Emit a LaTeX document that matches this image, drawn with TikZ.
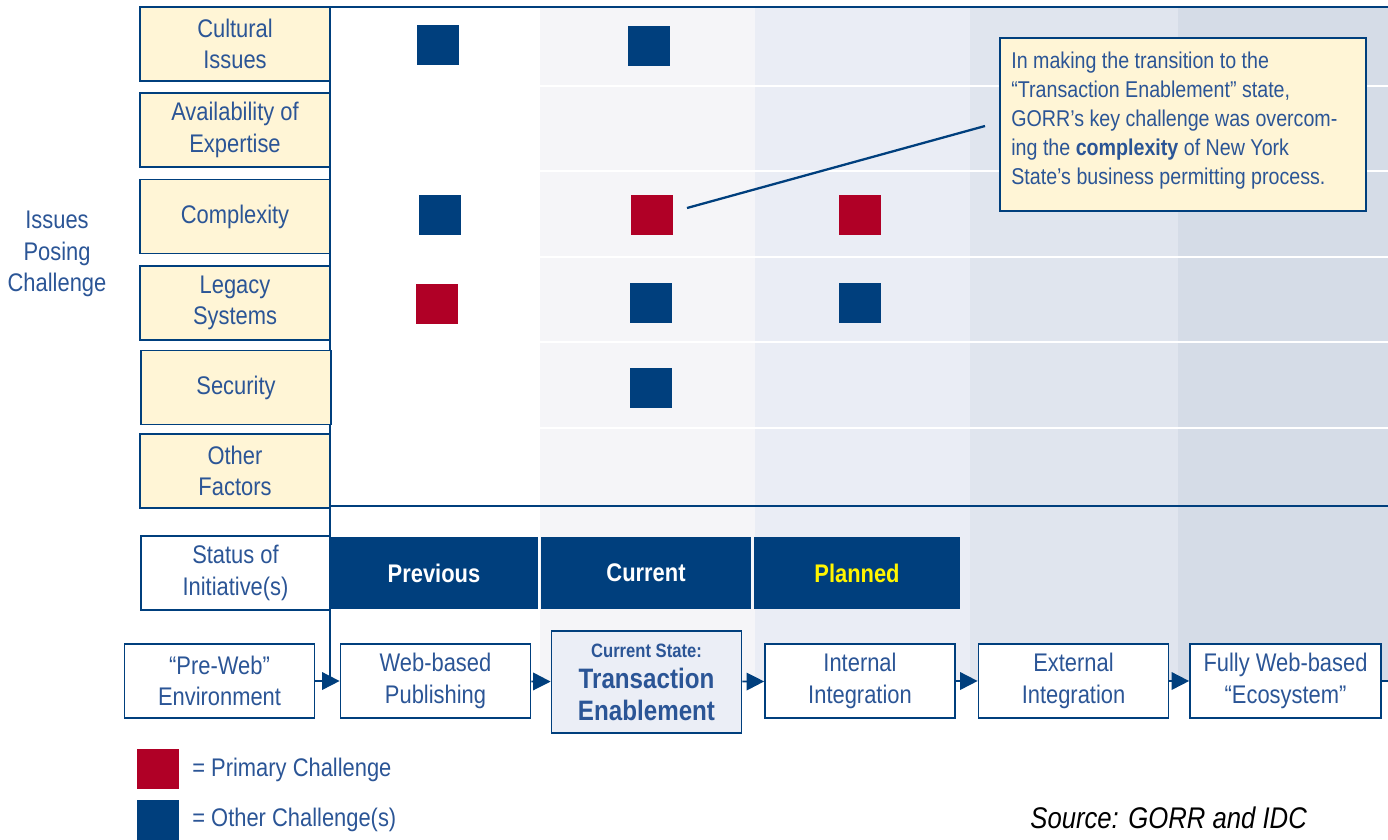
\documentclass[tikz,border=0pt]{standalone}
\usepackage{fontspec}
\setmainfont{Liberation Sans}[FakeStretch=0.86]
\usetikzlibrary{arrows.meta,calc}

\definecolor{navy}{RGB}{0,63,125}
\definecolor{crimson}{RGB}{176,0,38}
\definecolor{ink}{RGB}{43,85,150}
\definecolor{cream}{RGB}{255,245,214}
\definecolor{bandB}{RGB}{245,245,248}
\definecolor{bandC}{RGB}{234,237,245}
\definecolor{bandD}{RGB}{224,229,238}
\definecolor{bandE}{RGB}{213,220,231}
\definecolor{curfill}{RGB}{235,238,246}
\definecolor{planyellow}{RGB}{255,245,0}

\begin{document}
\begin{tikzpicture}[x=0.02cm, y=-0.02cm,
	every node/.style={font=\fontsize{14.5}{18}\selectfont, text=ink, align=center, inner sep=0pt},
	issue/.style={draw=navy, line width=1pt, fill=cream, minimum width=3.8cm, minimum height=1.48cm},
	chal/.style={fill=navy, minimum width=0.84cm, minimum height=0.8cm},
	primary/.style={chal, fill=crimson},
	status/.style={fill=navy, minimum height=1.44cm, text=white, font=\fontsize{14.5}{18}\selectfont\bfseries},
	stage/.style={draw=navy, line width=1pt, fill=white, minimum width=3.8cm, minimum height=1.48cm},
	flow/.style={draw=navy, line width=1pt, -{Triangle[length=10pt,width=10pt]}}
]

	% ---- frame

	\useasboundingbox (0,0) rectangle (1388,839);

	% ---- background bands

	\fill[bandB] (540,7) rectangle (755,681);
	\fill[bandC] (755,7) rectangle (970,681);
	\fill[bandD] (970,7) rectangle (1178,681);
	\fill[bandE] (1178,7) rectangle (1388,681);

	\foreach \y in {86,171,257,342,428} { \draw[white, line width=1.2pt] (540,\y) -- (1388,\y); }

	% ---- grid lines

	\coordinate (vtop) at (330,7);
	\coordinate (vbot) at (330,681);
	\coordinate (rend) at (1388,681);

	\draw[navy, line width=1pt] (140,7) -- (1388,7);
	\draw[navy, line width=1pt] (330,506) -- (1388,506);
	\draw[navy, line width=1pt] (vtop) -- (vbot);

	% ---- issues

	\node (issues) at (57,254) {Issues\\Posing\\Challenge};

	\node[issue] (cult)   at (235,44)    {Cultural\\Issues};
	\node[issue] (avail)  at (235,130)   {Availability of\\Expertise};
	\node[issue] (cplx)   at (235,216.5) {Complexity};
	\node[issue] (legacy) at (235,303)   {Legacy\\Systems};
	\node[issue] (secu)   at (236,387.5) {Security};
	\node[issue] (other)  at (235,471)   {Other\\Factors};

	% ---- challenges

	\node[chal]    (s11) at (438,45)  {};
	\node[chal]    (s12) at (649,46)  {};
	\node[chal]    (s31) at (440,215) {};
	\node[primary] (s32) at (652,215) {};
	\node[primary] (s33) at (860,215) {};
	\node[primary] (s41) at (437,304) {};
	\node[chal]    (s42) at (651,303) {};
	\node[chal]    (s43) at (860,303) {};
	\node[chal]    (s52) at (651,388) {};

	% ---- callout

	\node[draw=navy, line width=1pt, fill=cream, minimum width=7.32cm, minimum height=3.46cm] (note) at (1183,124.5) {};
	\node[anchor=north west, align=left, font=\fontsize{13}{16.4}\selectfont] (notetxt) at (1011,52)
		{In making the transition to the\\
		 “Transaction Enablement” state,\\
		 GORR’s key challenge was overcom-\\
		 ing the \textbf{complexity} of New York\\
		 State’s business permitting process.};

	\coordinate (lnA) at (687,208);
	\coordinate (lnB) at (985,126);
	\draw[navy, line width=1.3pt] (lnA) -- (lnB);

	% ---- status

	\node[stage, minimum width=3.78cm] (statlbl) at (235.5,573) {Status of\\Initiative(s)};
	\node[status, minimum width=4.16cm] (prev) at (434,573) {Previous};
	\node[status, minimum width=4.2cm]  (curr) at (646,573) {Current};
	\node[status, minimum width=4.12cm, text=planyellow] (plan) at (857,573) {Planned};

	% ---- stages

	\node[stage] (pre) at (219.5,681) {“Pre-Web”\\Environment};
	\node[stage] (web) at (435.5,681) {Web-based\\Publishing};
	\node[stage, fill=curfill, minimum height=2.04cm, font=\fontsize{16}{18}\selectfont\bfseries] (cur) at (646.5,682)
		{{\fontsize{11}{13}\selectfont Current State:}\\Transaction\\Enablement};
	\node[stage] (int) at (860,681)    {Internal\\Integration};
	\node[stage] (ext) at (1073.5,681) {External\\Integration};
	\node[stage, minimum width=3.82cm] (eco) at (1285.5,681) {Fully Web-based\\“Ecosystem”};

	% ---- arrows

	\draw[flow] (pre) -- (web);
	\draw[flow] (web) -- (cur);
	\draw[flow] (cur) -- (int);
	\draw[flow] (int) -- (ext);
	\draw[flow] (ext) -- (eco);
	\draw[navy, line width=1pt] (eco) -- (rend);

	% ---- legend

	\node[primary] (keyP) at (158,769) {};
	\node[chal]    (keyO) at (158,820) {};
	\node[anchor=west] (keyPt) at (192,770) {= Primary Challenge};
	\node[anchor=west] (keyOt) at (192,820) {= Other Challenge(s)};

	\node[anchor=west, text=black, font=\fontsize{17}{20}\selectfont\itshape] (src) at (1030,818) {Source: GORR and IDC};

\end{tikzpicture}
\end{document}
